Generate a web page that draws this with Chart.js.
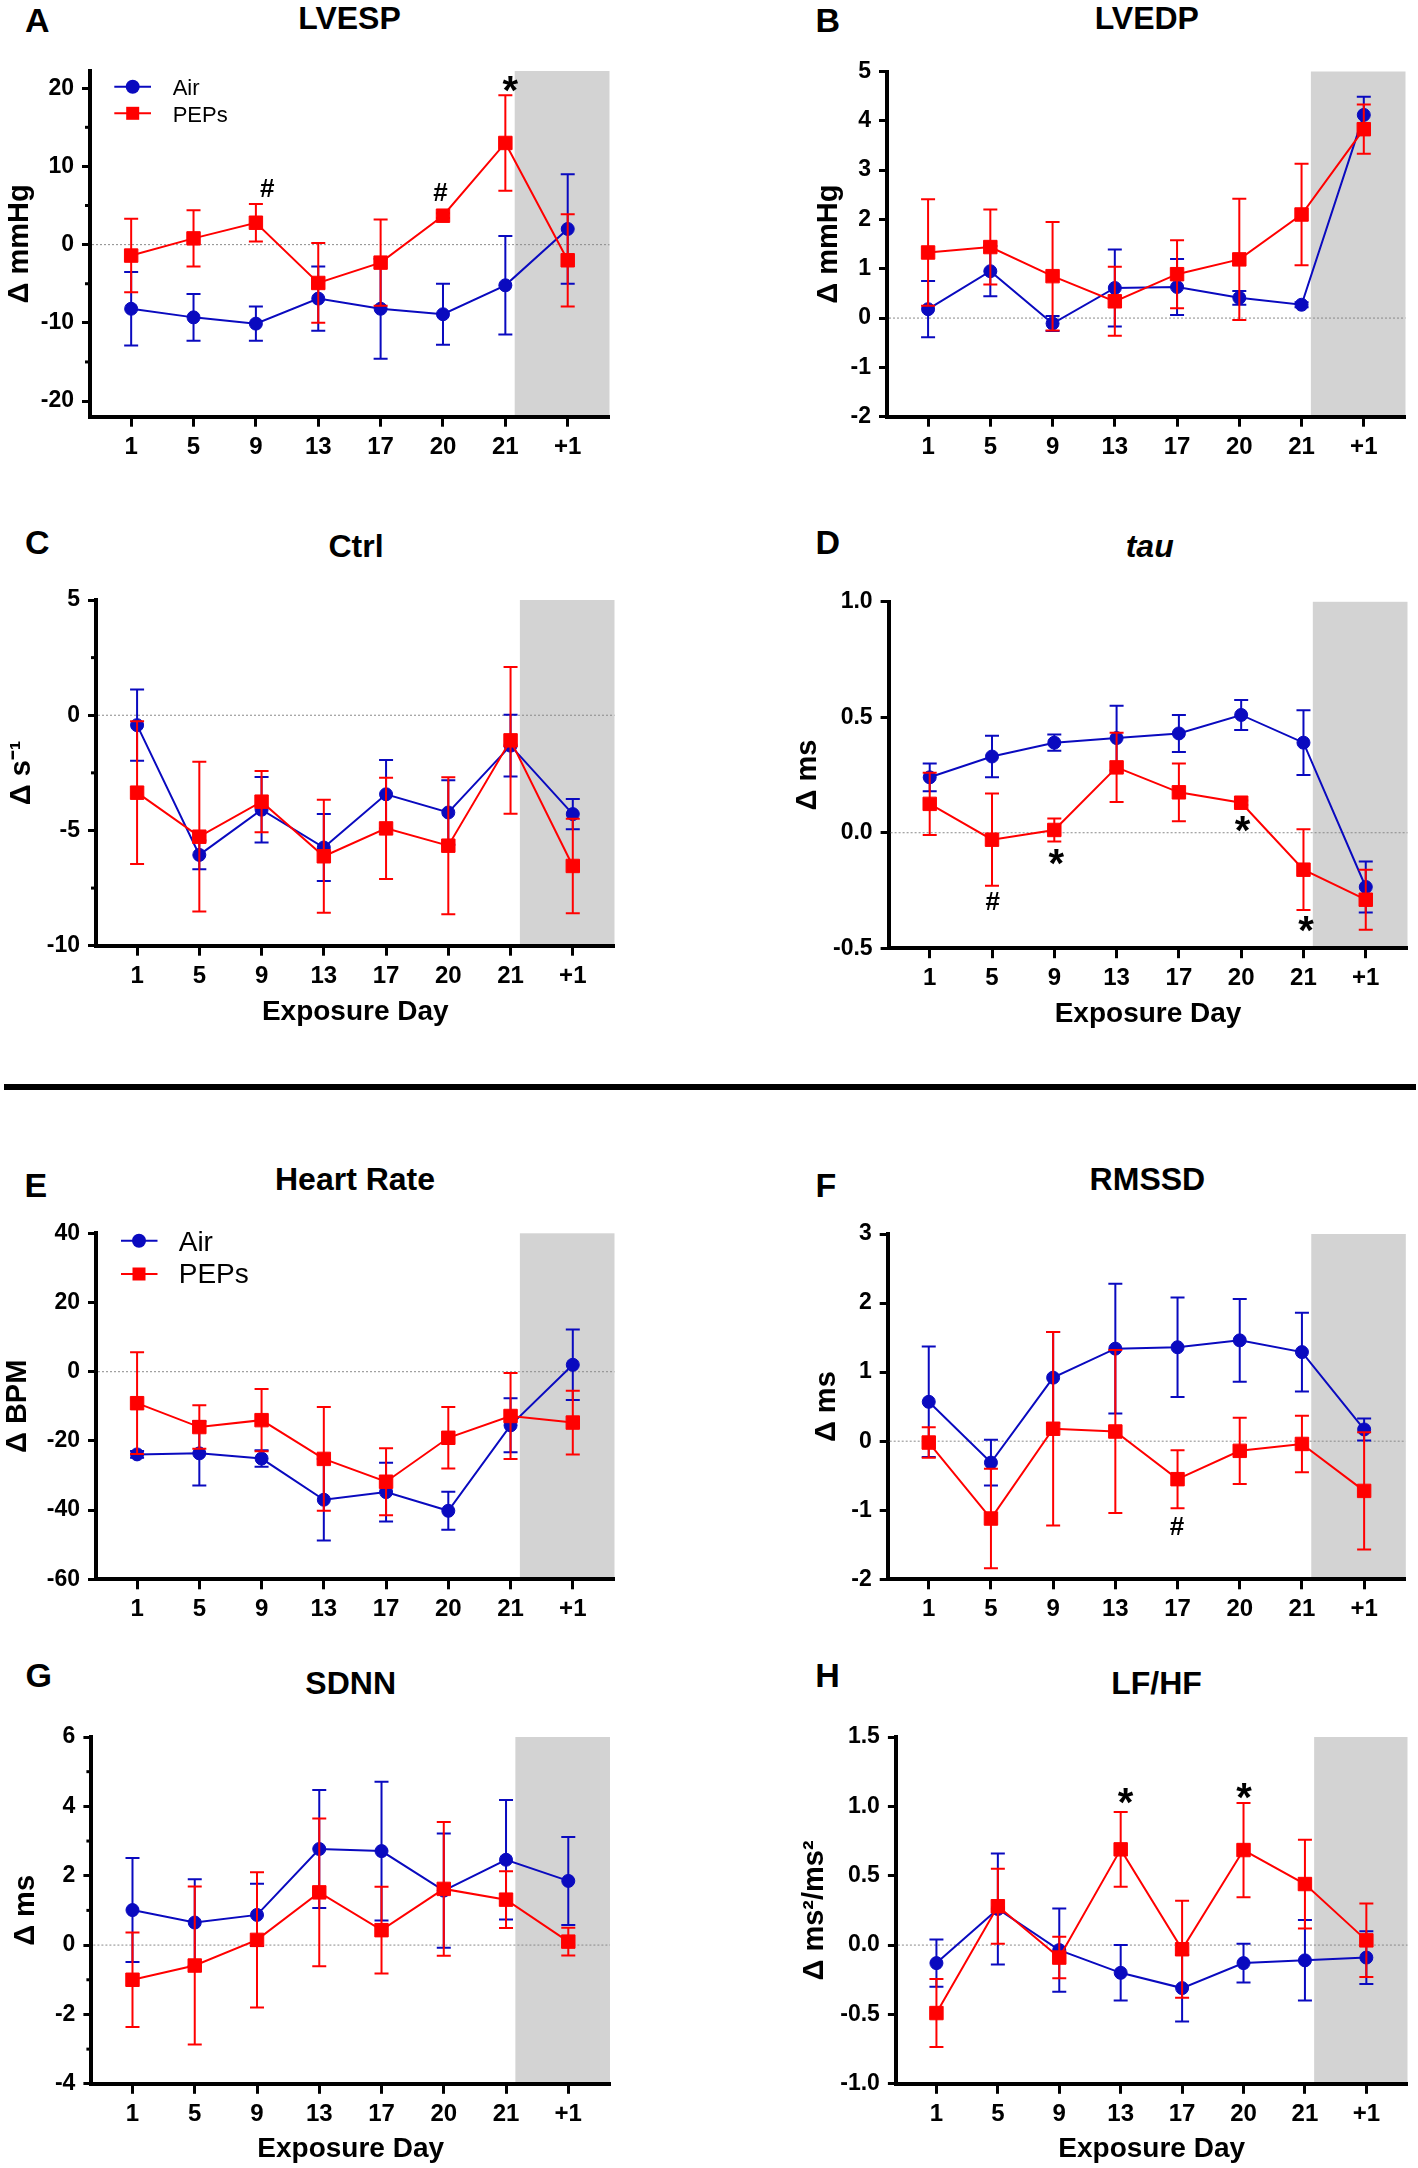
<!DOCTYPE html>
<html>
<head>
<meta charset="utf-8">
<script src="https://cdn.jsdelivr.net/npm/chart.js@4.4.0/dist/chart.umd.min.js"></script>
<style>
  body { margin: 0; background: #fff; width: 1418px; height: 2168px; position: relative; overflow: hidden; }
  canvas { position: absolute; }
  .lbl { position: absolute; font-family: "Liberation Sans", Arial, sans-serif; font-weight: bold; line-height: 1; white-space: nowrap; color: #000; }
  #divider { position: absolute; left: 4px; top: 1084px; width: 1412px; height: 6px; background: #000; }
</style>
</head>
<body>
<div id="divider"></div>
<script>
const days = ['1', '5', '9', '13', '17', '20', '21', '+1'];

// A - LVESP (mmHg)
const lvespAir     = [-8.2, -9.3, -10.1, -6.9, -8.2, -8.9, -5.2, 2.0];
const lvespAirSem  = [4.7, 3.0, 2.2, 4.1, 6.4, 3.9, 6.3, 7.0];
const lvespPeps    = [-1.4, 0.8, 2.8, -4.9, -2.3, 3.7, 13.0, -2.0];
const lvespPepsSem = [4.7, 3.6, 2.4, 5.1, 5.5, 0.3, 6.1, 5.9];
const lvespTicks = [-20, -10, 0, 10, 20];
const lvespMinor = [-15, -5, 5, 15];
const lvespMarks = [{at: 2.18, y: 7.2, s: '#'}, {at: 4.96, y: 6.7, s: '#'}, {at: 6.08, y: 20.5, s: '*'}];

// B - LVEDP (mmHg)
const lvedpAir     = [0.18, 0.95, -0.11, 0.61, 0.63, 0.41, 0.27, 4.12];
const lvedpAirSem  = [0.57, 0.51, 0.15, 0.78, 0.57, 0.14, 0.05, 0.37];
const lvedpPeps    = [1.33, 1.44, 0.85, 0.34, 0.89, 1.19, 2.10, 3.83];
const lvedpPepsSem = [1.08, 0.76, 1.10, 0.70, 0.69, 1.23, 1.03, 0.50];
const lvedpTicks = [-2, -1, 0, 1, 2, 3, 4, 5];

// C - Ctrl (s-1)
const ctrlAir     = [-0.43, -6.06, -4.10, -5.74, -3.43, -4.22, -1.32, -4.29];
const ctrlAirSem  = [1.55, 0.62, 1.42, 1.45, 1.49, 1.40, 1.34, 0.66];
const ctrlPeps    = [-3.36, -5.27, -3.75, -6.12, -4.91, -5.66, -1.09, -6.54];
const ctrlPepsSem = [3.10, 3.25, 1.33, 2.45, 2.20, 2.97, 3.18, 2.05];
const ctrlTicks = [-10, -5, 0, 5];
const ctrlMinor = [-7.5, -2.5, 2.5];

// D - tau (ms)
const tauAir     = [0.24, 0.33, 0.39, 0.41, 0.43, 0.51, 0.39, -0.235];
const tauAirSem  = [0.06, 0.09, 0.035, 0.14, 0.08, 0.065, 0.14, 0.11];
const tauPeps    = [0.125, -0.03, 0.012, 0.283, 0.175, 0.13, -0.16, -0.29];
const tauPepsSem = [0.135, 0.20, 0.05, 0.15, 0.125, 0.01, 0.175, 0.13];
const tauTicks = [-0.5, 0, 0.5, 1.0];
const tauMarks = [{at: 1.01, y: -0.297, s: '#'}, {at: 2.03, y: -0.104, s: '*'}, {at: 5.02, y: 0.036, s: '*'}, {at: 6.04, y: -0.394, s: '*'}];

// E - Heart Rate (BPM)
const hrAir     = [-23.9, -23.6, -25.1, -37.0, -34.8, -40.2, -15.5, 2.0];
const hrAirSem  = [1.0, 9.3, 2.4, 11.8, 8.5, 5.5, 7.8, 10.2];
const hrPeps    = [-9.1, -16.0, -14.0, -25.2, -31.8, -19.1, -12.8, -14.7];
const hrPepsSem = [14.7, 6.3, 9.0, 15.0, 9.7, 8.9, 12.4, 9.2];
const hrTicks = [-60, -40, -20, 0, 20, 40];

// F - RMSSD (ms)
const rmssdAir     = [0.57, -0.31, 0.92, 1.34, 1.36, 1.46, 1.29, 0.17];
const rmssdAirSem  = [0.80, 0.33, 0.66, 0.94, 0.72, 0.60, 0.57, 0.16];
const rmssdPeps    = [-0.02, -1.12, 0.18, 0.14, -0.55, -0.14, -0.04, -0.72];
const rmssdPepsSem = [0.22, 0.72, 1.40, 1.18, 0.42, 0.48, 0.41, 0.85];
const rmssdTicks = [-2, -1, 0, 1, 2, 3];
const rmssdMarks = [{at: 3.99, y: -1.23, s: '#'}];

// G - SDNN (ms)
const sdnnAir     = [1.01, 0.65, 0.87, 2.77, 2.71, 1.57, 2.46, 1.85];
const sdnnAirSem  = [1.50, 1.25, 0.90, 1.70, 2.00, 1.65, 1.72, 1.27];
const sdnnPeps    = [-1.00, -0.59, 0.15, 1.52, 0.43, 1.62, 1.31, 0.10];
const sdnnPepsSem = [1.36, 2.28, 1.95, 2.13, 1.25, 1.93, 0.82, 0.40];
const sdnnTicks = [-4, -2, 0, 2, 4, 6];
const sdnnMinor = [-3, -1, 1, 3, 5];

// H - LF/HF (ms2/ms2)
const lfhfAir     = [-0.13, 0.26, -0.036, -0.20, -0.31, -0.13, -0.11, -0.09];
const lfhfAirSem  = [0.17, 0.40, 0.30, 0.20, 0.24, 0.14, 0.29, 0.19];
const lfhfPeps    = [-0.49, 0.28, -0.09, 0.69, -0.03, 0.685, 0.44, 0.034];
const lfhfPepsSem = [0.245, 0.27, 0.15, 0.27, 0.35, 0.34, 0.32, 0.265];
const lfhfTicks = [-1.0, -0.5, 0, 0.5, 1.0, 1.5];
const lfhfMarks = [{at: 3.08, y: 1.073, s: '*'}, {at: 5.01, y: 1.114, s: '*'}];

const AIR = '#0a0abf';
const PEPS = '#ff0000';
const FONT = '"Liberation Sans", Arial, sans-serif';
const X_MIN = -0.66, X_MAX = 7.67, SHADE_FROM = 6.15;

// box = canvas [left, top, w, h]; area = plot [left, top, right, bottom] (page px)
const panels = [
  { letter: ['A', 25, 31.7], title: ['LVESP', 349.5, 29], box: [0, 0, 709, 480], area: [90, 71, 609.5, 416.7],
    air: lvespAir, airSem: lvespAirSem, peps: lvespPeps, pepsSem: lvespPepsSem, range: [-22, 22.2],
    ticks: lvespTicks, minor: lvespMinor, marks: lvespMarks, yTitle: 'Δ mmHg', yTitleX: 19.5,
    legend: { line: [114.3, 151], mx: 132.7, tx: 172.7, rows: [86.7, 113.3], base: [95, 121.7], size: 22 } },
  { letter: ['B', 815.5, 31.7], title: ['LVEDP', 1146.8, 29], box: [709, 0, 709, 480], area: [887, 71.5, 1405.5, 416.7],
    air: lvedpAir, airSem: lvedpAirSem, peps: lvedpPeps, pepsSem: lvedpPepsSem, range: [-2, 5],
    ticks: lvedpTicks, yTitle: 'Δ mmHg', yTitleX: 829 },
  { letter: ['C', 25, 553.6], title: ['Ctrl', 356, 557], box: [0, 480, 709, 600], area: [96, 600, 614.5, 945.7],
    air: ctrlAir, airSem: ctrlAirSem, peps: ctrlPeps, pepsSem: ctrlPepsSem, range: [-10, 5],
    ticks: ctrlTicks, minor: ctrlMinor, yTitle: 'Δ s⁻¹', yTitleX: 21.5, xTitleY: 1012 },
  { letter: ['D', 815.5, 553.6], title: ['tau', 1149.7, 557, true], box: [709, 480, 709, 600], area: [888.6, 601.8, 1408, 948.2],
    air: tauAir, airSem: tauAirSem, peps: tauPeps, pepsSem: tauPepsSem, range: [-0.5, 1.0], dec: 1,
    ticks: tauTicks, marks: tauMarks, yTitle: 'Δ ms', yTitleX: 808, xTitleY: 1014 },
  { letter: ['E', 24.5, 1197], title: ['Heart Rate', 355, 1190], box: [0, 1100, 709, 540], area: [96, 1233.3, 614.5, 1579.3],
    air: hrAir, airSem: hrAirSem, peps: hrPeps, pepsSem: hrPepsSem, range: [-60, 40],
    ticks: hrTicks, yTitle: 'Δ BPM', yTitleX: 17.5,
    legend: { line: [121, 157.5], mx: 139, tx: 178.7, rows: [1240.7, 1274], base: [1250.7, 1282.7], size: 28 } },
  { letter: ['F', 815.5, 1197], title: ['RMSSD', 1147.4, 1190], box: [709, 1100, 709, 540], area: [887.7, 1234, 1405.8, 1579.3],
    air: rmssdAir, airSem: rmssdAirSem, peps: rmssdPeps, pepsSem: rmssdPepsSem, range: [-2, 3],
    ticks: rmssdTicks, marks: rmssdMarks, yTitle: 'Δ ms', yTitleX: 827 },
  { letter: ['G', 25.5, 1687], title: ['SDNN', 350.7, 1694], box: [0, 1640, 709, 528], area: [91.4, 1737, 610, 2083.8],
    air: sdnnAir, airSem: sdnnAirSem, peps: sdnnPeps, pepsSem: sdnnPepsSem, range: [-4, 6],
    ticks: sdnnTicks, minor: sdnnMinor, yTitle: 'Δ ms', yTitleX: 26, xTitleY: 2149.6 },
  { letter: ['H', 815.3, 1687], title: ['LF/HF', 1156.6, 1694], box: [709, 1640, 709, 528], area: [895.9, 1737, 1415.8, 2083.8],
    air: lfhfAir, airSem: lfhfAirSem, peps: lfhfPeps, pepsSem: lfhfPepsSem, range: [-1.0, 1.5], dec: 1,
    ticks: lfhfTicks, marks: lfhfMarks, yTitle: 'Δ ms²/ms²', yTitleX: 815, xTitleY: 2149.6 }
];

function addText(txt, x, base, size, centered, italic) {
  const d = document.createElement('div');
  d.className = 'lbl';
  d.textContent = txt;
  d.style.fontSize = size + 'px';
  d.style.top = (base - 0.8465 * size) + 'px';
  if (italic) d.style.fontStyle = 'italic';
  if (centered) {
    d.style.left = (x - 200) + 'px';
    d.style.width = '400px';
    d.style.textAlign = 'center';
  } else {
    d.style.left = x + 'px';
  }
  document.body.appendChild(d);
}

function decor(p) {
  const [cl, ct] = p.box;
  return {
    id: 'decor',
    beforeDraw(chart) {
      const { ctx, chartArea: a } = chart;
      const xs = chart.scales.x.getPixelForValue(SHADE_FROM);
      ctx.save();
      ctx.fillStyle = '#d3d3d3';
      ctx.fillRect(xs, a.top, a.right - xs, a.bottom - a.top);
      ctx.restore();
    },
    beforeDatasetsDraw(chart) {
      // dotted zero line
      const { ctx, chartArea: a } = chart;
      const y0 = chart.scales.y.getPixelForValue(0);
      ctx.save();
      ctx.strokeStyle = '#8a8a8a';
      ctx.lineWidth = 1;
      ctx.setLineDash([2, 2]);
      ctx.beginPath();
      ctx.moveTo(a.left + 2, y0);
      ctx.lineTo(a.right, y0);
      ctx.stroke();
      ctx.restore();
    },
    beforeDatasetDraw(chart, args) {
      // SEM bars under each series' markers
      const ds = chart.data.datasets[args.index];
      const ys = chart.scales.y;
      const ctx = chart.ctx;
      ctx.save();
      ctx.strokeStyle = ds.borderColor;
      ctx.lineWidth = 2;
      args.meta.data.forEach((pt, i) => {
        const v = ds.data[i].y, e = ds.errors[i];
        const y1 = ys.getPixelForValue(v + e), y2 = ys.getPixelForValue(v - e);
        ctx.beginPath();
        ctx.moveTo(pt.x, y1); ctx.lineTo(pt.x, y2);
        ctx.moveTo(pt.x - 7, y1); ctx.lineTo(pt.x + 7, y1);
        ctx.moveTo(pt.x - 7, y2); ctx.lineTo(pt.x + 7, y2);
        ctx.stroke();
      });
      ctx.restore();
    },
    afterDraw(chart) {
      const { ctx, chartArea: a } = chart;
      const xs = chart.scales.x, ys = chart.scales.y;
      ctx.save();
      // minor y ticks
      ctx.strokeStyle = '#000';
      ctx.lineWidth = 3;
      (p.minor || []).forEach(v => {
        const y = ys.getPixelForValue(v);
        ctx.beginPath();
        ctx.moveTo(a.left - 5, y);
        ctx.lineTo(a.left, y);
        ctx.stroke();
      });
      // significance marks
      ctx.fillStyle = '#000';
      ctx.textAlign = 'center';
      ctx.textBaseline = 'alphabetic';
      (p.marks || []).forEach(m => {
        ctx.font = 'bold ' + (m.s === '*' ? 40 : 26) + 'px ' + FONT;
        const mt = ctx.measureText(m.s);
        const x = xs.getPixelForValue(m.at), y = ys.getPixelForValue(m.y);
        ctx.fillText(m.s, x, y + (mt.actualBoundingBoxAscent - mt.actualBoundingBoxDescent) / 2);
      });
      // legend
      if (p.legend) {
        const lg = p.legend;
        chart.data.datasets.forEach((ds, i) => {
          const y = lg.rows[i] - ct;
          ctx.strokeStyle = ds.borderColor;
          ctx.fillStyle = ds.borderColor;
          ctx.lineWidth = 2;
          ctx.beginPath();
          ctx.moveTo(lg.line[0] - cl, y);
          ctx.lineTo(lg.line[1] - cl, y);
          ctx.stroke();
          const mx = lg.mx - cl;
          ctx.beginPath();
          if (ds.pointStyle === 'circle') ctx.arc(mx, y, 7, 0, Math.PI * 2);
          else ctx.rect(mx - 6.5, y - 6.5, 13, 13);
          ctx.fill();
          ctx.fillStyle = '#000';
          ctx.font = lg.size + 'px ' + FONT;
          ctx.textAlign = 'left';
          ctx.fillText(ds.label, lg.tx - cl, lg.base[i] - ct);
        });
      }
      ctx.restore();
    }
  };
}

function drawPanel(p) {
  const [cl, ct, cw, ch] = p.box;
  const [L, T, R, B] = p.area;
  addText(p.letter[0], p.letter[1], p.letter[2], 34, false, false);
  addText(p.title[0], p.title[1], p.title[2], 32, true, p.title[3]);

  const cv = document.createElement('canvas');
  cv.width = cw; cv.height = ch;
  cv.style.left = cl + 'px'; cv.style.top = ct + 'px';
  cv.style.width = cw + 'px'; cv.style.height = ch + 'px';
  document.body.appendChild(cv);

  const xTickFont = { family: FONT, size: 24, weight: 'bold' };
  const yTickFont = { family: FONT, size: 23, weight: 'bold' };
  const yTitleSize = 29, xTitleSize = 28;

  new Chart(cv, {
    type: 'line',
    data: {
      datasets: [
        {
          label: 'Air',
          data: p.air.map((v, i) => ({ x: i, y: v })),
          errors: p.airSem,
          borderColor: AIR, backgroundColor: AIR,
          pointStyle: 'circle', pointRadius: 6.5, pointBorderWidth: 1,
          pointBackgroundColor: AIR, pointBorderColor: AIR,
          borderWidth: 2, order: 2
        },
        {
          label: 'PEPs',
          data: p.peps.map((v, i) => ({ x: i, y: v })),
          errors: p.pepsSem,
          borderColor: PEPS, backgroundColor: PEPS,
          pointStyle: 'rect', pointRadius: 9.5, pointBorderWidth: 1,
          pointBackgroundColor: PEPS, pointBorderColor: PEPS,
          borderWidth: 2, order: 1
        }
      ]
    },
    options: {
      responsive: false,
      animation: false,
      devicePixelRatio: 1,
      layout: { padding: { left: 0, top: T - ct, right: cl + cw - R, bottom: 0 } },
      plugins: { legend: { display: false }, tooltip: { enabled: false } },
      scales: {
        x: {
          type: 'linear', min: X_MIN, max: X_MAX,
          afterBuildTicks: s => { s.ticks = days.map((d, i) => ({ value: i })); },
          afterFit: s => { s.height = ct + ch - B; },
          ticks: { callback: v => days[v], font: xTickFont, color: '#000', padding: 6, autoSkip: false, maxRotation: 0 },
          grid: { drawOnChartArea: false, drawTicks: true, tickLength: 10, tickWidth: 3, tickColor: '#000' },
          border: { display: true, color: '#000', width: 4 },
          title: p.xTitleY ? {
            display: true, text: 'Exposure Day', color: '#000',
            font: { family: FONT, size: xTitleSize, weight: 'bold' },
            padding: { top: 0, bottom: ct + ch - p.xTitleY - xTitleSize * 0.6 }
          } : { display: false }
        },
        y: {
          min: p.range[0], max: p.range[1],
          afterBuildTicks: s => { s.ticks = p.ticks.map(v => ({ value: v })); },
          afterFit: s => { s.width = L - cl; },
          ticks: { callback: v => p.dec ? v.toFixed(p.dec) : String(v), font: yTickFont, color: '#000', padding: 8 },
          grid: { drawOnChartArea: false, drawTicks: true, tickLength: 8, tickWidth: 3, tickColor: '#000' },
          border: { display: true, color: '#000', width: 4 },
          title: {
            display: true, text: p.yTitle, color: '#000',
            font: { family: FONT, size: yTitleSize, weight: 'bold' },
            padding: { top: p.yTitleX - cl - yTitleSize * 0.6, bottom: 0 }
          }
        }
      }
    },
    plugins: [decor(p)]
  });
}

panels.forEach(drawPanel);
</script>
</body>
</html>
